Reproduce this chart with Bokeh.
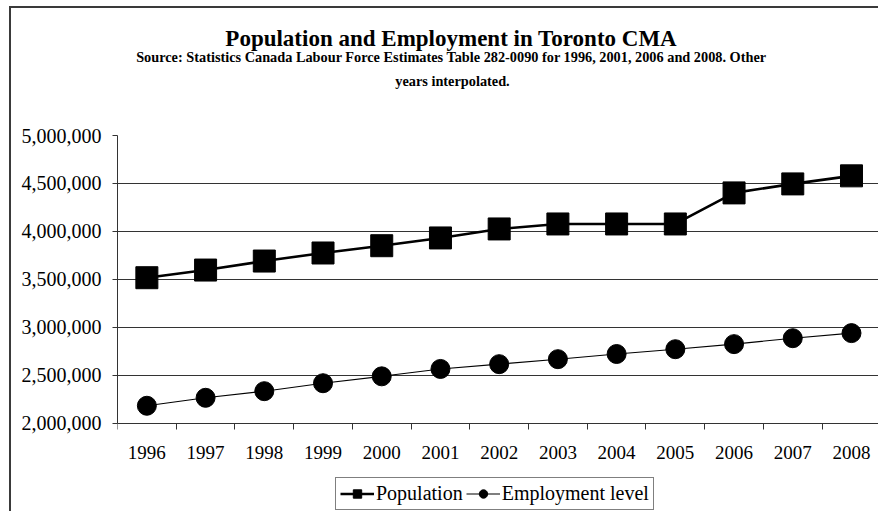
from bokeh.plotting import figure
from bokeh.models import (FixedTicker, NumeralTickFormatter, Title,
                          Legend, LegendItem, Range1d, InlineStyleSheet)
from bokeh.embed import file_html
from bokeh.resources import INLINE

years = ["1996", "1997", "1998", "1999", "2000", "2001", "2002",
         "2003", "2004", "2005", "2006", "2007", "2008"]
population = [3516000, 3596000, 3690000, 3774000, 3850000, 3931000, 4025000,
              4077000, 4077000, 4077000, 4401000, 4495000, 4579000]
employment = [2180000, 2263000, 2332000, 2415000, 2487000, 2564000, 2614000,
              2666000, 2720000, 2770000, 2823000, 2885000, 2938000]
y_ticks = [2000000, 2500000, 3000000, 3500000, 4000000, 4500000, 5000000]

title_text = "Population and Employment in Toronto CMA"
sub1 = "Source: Statistics Canada Labour Force Estimates Table 282-0090 for 1996, 2001, 2006 and 2008.  Other"
sub2 = "years interpolated."

FONT = "Liberation Serif"
xs = list(range(len(years)))

# layout (pixels): plot area from y=135 (top value) to y=422.5 (bottom value);
# the frame continues to the canvas bottom so that the legend sits inside it.
W, H = 878, 511
TOP, AXIS_Y = 135, 422.5
y_lo = y_ticks[-1] - (y_ticks[-1] - y_ticks[0]) * (H - TOP) / (AXIS_Y - TOP)

p = figure(width=W, height=H, output_backend="svg", toolbar_location=None,
           x_range=Range1d(-0.5, 12.46), y_range=Range1d(y_lo, y_ticks[-1]),
           min_border_left=117, min_border_right=0, min_border_top=TOP,
           min_border_bottom=0)
p.outline_line_color = None
p.background_fill_color = "white"
p.border_fill_color = "white"

# outer chart-area border (drawn by CSS on the figure element)
p.stylesheets = [InlineStyleSheet(css="""
:host { position: relative; overflow: hidden; }
:host::after { content: ""; position: absolute; left: 9px; top: 6px;
  right: -40px; bottom: -40px; border: 2px solid #3a3a3a; pointer-events: none; }
""")]

# grid
p.xgrid.visible = False
p.ygrid.ticker = FixedTicker(ticks=y_ticks)
p.ygrid.grid_line_color = "#333333"
p.ygrid.grid_line_width = 1

# x axis, pinned at the bottom value of the value axis
p.xaxis.fixed_location = y_ticks[0]
p.xaxis.ticker = FixedTicker(ticks=xs, minor_ticks=[i - 0.5 for i in range(len(years) + 1)])
p.xaxis.major_label_overrides = {i: y for i, y in enumerate(years)}
p.xaxis.major_tick_out = 0
p.xaxis.major_tick_in = 0
p.xaxis.minor_tick_out = 6
p.xaxis.minor_tick_in = 0
p.xaxis.minor_tick_line_color = "#333333"
p.xaxis.axis_line_color = "#333333"
p.xaxis.major_label_standoff = 17
p.xaxis.major_label_text_font = FONT
p.xaxis.major_label_text_font_size = "19px"
p.xaxis.major_label_text_color = "black"

# y axis
p.yaxis.ticker = FixedTicker(ticks=y_ticks)
p.yaxis.bounds = (y_ticks[0], y_ticks[-1])
p.yaxis.formatter = NumeralTickFormatter(format="0,0")
p.yaxis.major_tick_out = 5
p.yaxis.major_tick_in = 0
p.yaxis.minor_tick_out = 0
p.yaxis.minor_tick_in = 0
p.yaxis.major_tick_line_color = "#333333"
p.yaxis.axis_line_color = "#333333"
p.yaxis.major_label_standoff = 11
p.yaxis.major_label_text_font = FONT
p.yaxis.major_label_text_font_size = "20px"
p.yaxis.major_label_text_color = "black"

# series
pl = p.line(xs, population, line_color="black", line_width=2.6)
ps = p.scatter(xs, population, marker="square", size=22, fill_color="black",
               line_color="black")
el = p.line(xs, employment, line_color="black", line_width=1.1)
es = p.scatter(xs, employment, marker="circle", size=19, fill_color="black",
               line_color="black")

legend = Legend(items=[LegendItem(label="Population", renderers=[pl, ps]),
                       LegendItem(label="Employment level", renderers=[el, es])],
                orientation="horizontal", location=(218, 1),
                label_text_font=FONT, label_text_font_size="20px",
                label_text_color="black",
                glyph_width=34, glyph_height=21, label_standoff=2, spacing=3,
                padding=4, margin=0, border_line_color="black",
                border_line_width=1, background_fill_alpha=1)
p.add_layout(legend, "center")

# titles: stacked upward from the plot frame
CENTER = 452
FRAME_LEFT = 117
def title(text, size, width_em, standoff):
    w = width_em * size
    return Title(text=text, align="left", offset=CENTER - w / 2 - FRAME_LEFT,
                 standoff=standoff, text_font=FONT, text_font_style="bold",
                 text_font_size=f"{size}px", text_color="black")

p.add_layout(Title(text=" ", text_font_size="1px", standoff=44), "above")
p.add_layout(title(sub2, 14.3, 7.999, 0), "above")
p.add_layout(title(sub1, 14.3, 44.248, 10.2), "above")
p.add_layout(title(title_text, 23, 19.752, -17), "above")

open("out.html", "w").write(file_html(p, INLINE))
